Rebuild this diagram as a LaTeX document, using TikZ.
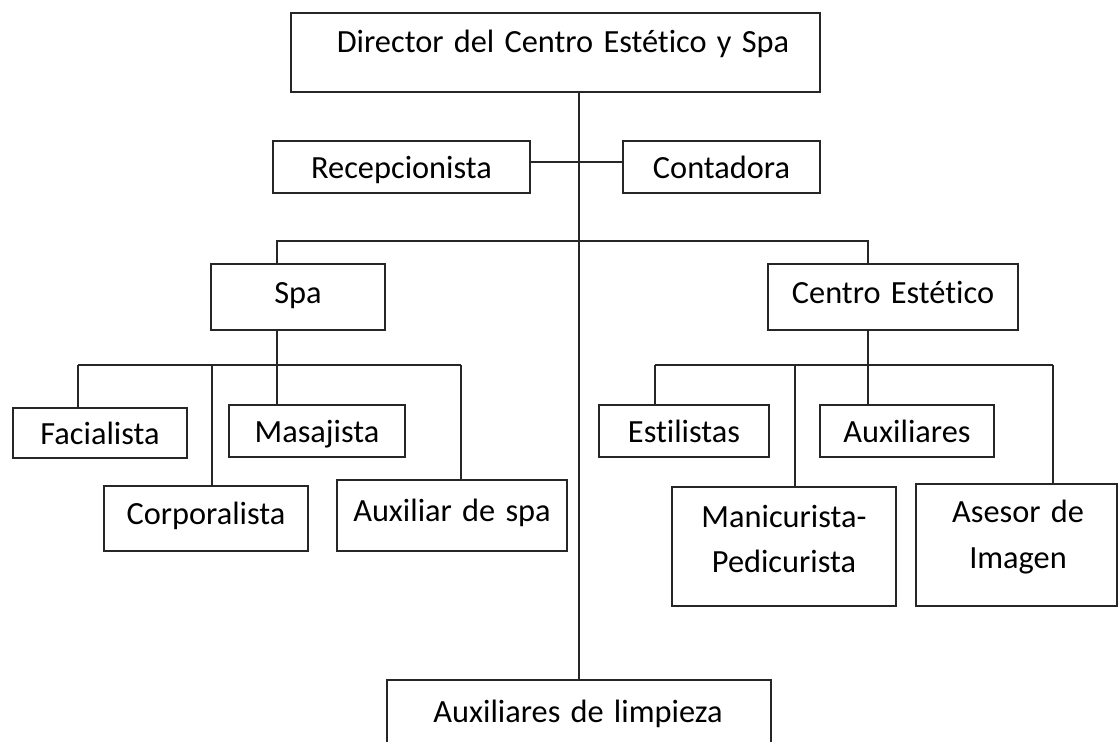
\documentclass[tikz,border=0pt]{standalone}
\usepackage{fontspec}
\setmainfont{Carlito}[Ligatures=NoCommon, WordSpace=1.4]
\usepackage{tikz}

\tikzset{
  box/.style={draw=black!85, line width=0.9pt, inner sep=0pt, align=center,
    font=\fontsize{23}{32.5}\selectfont, text height=17.6pt, text depth=0.6pt},
  midbox/.style={box, text height=10pt, text depth=0.8pt},
  txt/.style={inner sep=0pt, align=center, font=\fontsize{23}{32.5}\selectfont},
  link/.style={draw=black!85, line width=0.9pt}
}

\begin{document}
\begin{tikzpicture}[x=0.025cm, y=-0.025cm]

            \useasboundingbox (0,0) rectangle (1118,742);
            \clip (0,0) rectangle (1118,742);

            % top of the chart
            \node[box, minimum width=529*0.025cm, minimum height=79*0.025cm] (dir) at (555.5,52.5) {};
            \node[txt, anchor=base] (dirtext) at (563,53) {Director del Centro Estético y Spa};
            \node[box, minimum width=257*0.025cm, minimum height=52*0.025cm] (rec) at (401.5,167) {Recepcionista};
            \node[box, minimum width=197*0.025cm, minimum height=52*0.025cm] (cont) at (721.5,167) {Contadora};

            % areas
            \node[midbox, minimum width=174*0.025cm, minimum height=66*0.025cm] (spa) at (298,297) {Spa};
            \node[midbox, minimum width=250*0.025cm, minimum height=66*0.025cm] (ce) at (893,297) {Centro Estético};

            % spa staff
            \node[box, minimum width=174*0.025cm, minimum height=50*0.025cm] (fac) at (100,433) {Facialista};
            \node[box, minimum width=176*0.025cm, minimum height=52*0.025cm] (mas) at (317,431) {Masajista};
            \node[midbox, minimum width=204*0.025cm, minimum height=65*0.025cm] (corp) at (206,518.5) {Corporalista};
            \node[midbox, minimum width=230*0.025cm, minimum height=71*0.025cm] (auxspa) at (452,515.5) {Auxiliar de spa};

            % centro estetico staff
            \node[box, minimum width=170*0.025cm, minimum height=52*0.025cm] (est) at (684,431) {Estilistas};
            \node[box, minimum width=174*0.025cm, minimum height=52*0.025cm] (auxil) at (907,431) {Auxiliares};
            \node[box, minimum width=224*0.025cm, minimum height=119*0.025cm] (mani) at (784,546.5) {};
            \node[txt] (manitext) at (784,539) {Manicurista-\\Pedicurista};
            \node[box, minimum width=201*0.025cm, minimum height=122*0.025cm] (ases) at (1016.5,545) {};
            \node[txt] (asestext) at (1018,537) {Asesor de\\Imagen};

            % bottom
            \node[box, minimum width=384*0.025cm, minimum height=90*0.025cm] (limp) at (579,725) {};
            \node[txt, anchor=base] (limptext) at (578,722) {Auxiliares de limpieza};

            % lines
            \draw[link] (dir.south -| limp.north) -- (limp.north);
            \draw[link] ([yshift=1.25mm]rec.east) -- ([yshift=1.25mm]cont.west);
            \draw[link] (spa.north -| 277,0) |- (868,241) -- (ce.north -| 868,0);

            \draw[link] (spa.south -| 277,0) -- (277,365);
            \draw[link] (78,365) -- (461,365);
            \foreach \n/\x in {fac/78, corp/212, mas/277, auxspa/461}
            {
                \draw[link] (\n.north -| \x,0) -- (\x,365);
            }

            \draw[link] (ce.south -| 868,0) -- (868,365);
            \draw[link] (655,365) -- (1053,365);
            \foreach \n/\x in {est/655, mani/795, auxil/868, ases/1053}
            {
                \draw[link] (\n.north -| \x,0) -- (\x,365);
            }
        \end{tikzpicture}
\end{document}
